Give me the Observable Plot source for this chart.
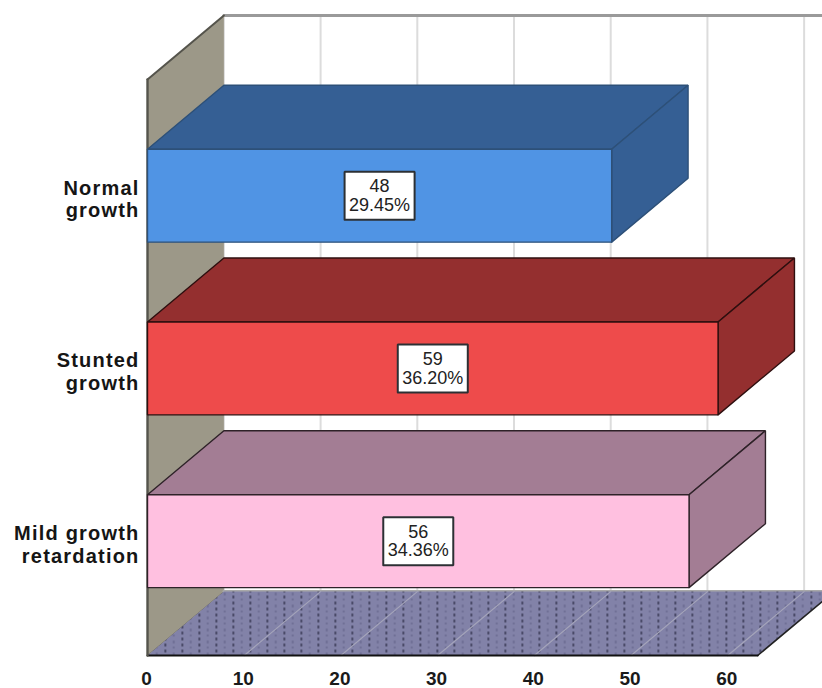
<!DOCTYPE html>
<html>
<head>
<meta charset="utf-8">
<script src="https://cdn.jsdelivr.net/npm/d3@7"></script>
<script src="https://cdn.jsdelivr.net/npm/@observablehq/plot@0.6"></script>
<style>
  html, body { margin: 0; padding: 0; background: #fff; overflow: hidden; }
  svg { display: block; }
</style>
</head>
<body>
<script>
// Growth categories, bottom row first, and their counts and shares
const categories = ["Mild growth\nretardation", "Stunted\ngrowth", "Normal\ngrowth"];
const counts = [56, 59, 48];
const percents = ["34.36%", "36.20%", "29.45%"];
const tickValues = [0, 10, 20, 30, 40, 50, 60];

// Bar face colours
const frontColors = ["#ffc0e0", "#ee4b4b", "#5094e4"];
const shadeColors = ["#a37d94", "#942f2f", "#355f94"];
const edgeColors = ["#2e2228", "#2e0f0f", "#2d5078"];

// Extent of the 3D box, in scale units
const xMax = 69.8;
const floorEnd = 63.1;
const depthX = 7.9;
const depthY = 0.37;
const barHalf = 0.269;
const floorY = -0.662;
const wallTop = 2.673;
const yMax = wallTop + depthY;
const boxHalfX = 3.62;
const boxHalfY = 0.139;

// Closed polygon drawn as a filled line
function face(points, fill, stroke = "none", strokeWidth = 1) {
  const closed = [...points, points[0]].map(([x, y]) => ({x, y}));
  return Plot.line(closed, {x: "x", y: "y", fill, stroke, strokeWidth, curve: "linear", strokeLinejoin: "miter"});
}
function seg(a, b, stroke, strokeWidth) {
  return Plot.line([{x: a[0], y: a[1]}, {x: b[0], y: b[1]}], {x: "x", y: "y", stroke, strokeWidth});
}

// Stippled floor fill
function floorPattern() {
  const defs = d3.create("svg:defs");
  const p = defs.append("pattern").attr("id", "floor-dots").attr("patternUnits", "userSpaceOnUse")
    .attr("width", 17).attr("height", 12).attr("x", 147).attr("y", 0);
  p.append("rect").attr("width", 17).attr("height", 12).attr("fill", "#8282a8");
  for (const [x, y, c] of [[0, 1, "#3c3c58"], [0, 7, "#3c3c58"], [8.5, 4, "#6a6a90"], [8.5, 10, "#6a6a90"]]) {
    p.append("rect").attr("x", x).attr("y", y).attr("width", 1.6).attr("height", 3).attr("fill", c);
  }
  return defs.node();
}

const backGrid = tickValues.slice(1).map(v => seg([v + depthX, floorY + depthY], [v + depthX, yMax], "#dcdcdc", 2));
const floorGrid = tickValues.slice(1).map(v => seg([v, floorY], [v + depthX, floorY + depthY], "#a4a4ba", 1.2));

const barMarks = counts.flatMap((v, i) => {
  const lo = i - barHalf, hi = i + barHalf, edge = edgeColors[i];
  return [
    face([[0, hi], [depthX, hi + depthY], [v + depthX, hi + depthY], [v, hi]], shadeColors[i], edge, 1.4),
    face([[v, lo], [v, hi], [v + depthX, hi + depthY], [v + depthX, lo + depthY]], shadeColors[i], edge, 1.4),
    face([[0, lo], [v, lo], [v, hi], [0, hi]], frontColors[i], edge, 1.4),
    face([[v / 2 - boxHalfX, i - boxHalfY], [v / 2 + boxHalfX, i - boxHalfY], [v / 2 + boxHalfX, i + boxHalfY], [v / 2 - boxHalfX, i + boxHalfY]], "#fff", "#2c3034", 2)
  ];
});

const rows = counts.map((v, i) => ({v, i, label: `${v}\n${percents[i]}`, cat: categories[i]}));

const chart = Plot.plot({
  width: 822,
  height: 688,
  marginLeft: 147,
  marginRight: 0,
  marginTop: 15,
  marginBottom: 33,
  style: {background: "#fff", fontFamily: "'Liberation Sans', Arial, sans-serif"},
  x: {domain: [0, xMax]},
  y: {domain: [floorY, yMax], axis: null},
  marks: [
    floorPattern,
    // back plane and its grid
    ...backGrid,
    seg([depthX, floorY + depthY], [depthX, yMax], "#dcdcdc", 2),
    seg([depthX, yMax], [xMax, yMax], "#9a9a9a", 3),
    // side wall
    face([[0, floorY], [depthX, floorY + depthY], [depthX, yMax], [0, wallTop]], "#9c9888"),
    seg([0, wallTop], [depthX, yMax], "#55544c", 2),
    seg([0, floorY], [depthX, floorY + depthY], "#6a685e", 1),
    // floor
    seg([depthX, floorY + depthY], [xMax + 2, floorY + depthY], "#a8a8a8", 3),
    face([[0, floorY], [depthX, floorY + depthY], [floorEnd + depthX, floorY + depthY], [floorEnd, floorY]], "url(#floor-dots)"),
    ...floorGrid,
    seg([floorEnd, floorY], [floorEnd + depthX, floorY + depthY], "#222", 1.6),
    seg([0, floorY], [floorEnd, floorY], "#111", 2),
    seg([0, floorY], [0, wallTop], "#55544c", 2.4),
    // bars with their value boxes
    ...barMarks,
    Plot.text(rows, {x: d => d.v / 2, y: "i", text: "label", fontSize: 18, lineHeight: 1.03, fill: "#222"}),
    Plot.text(rows, {x: 0, y: "i", text: "cat", textAnchor: "end", dx: -8, dy: 3, fontSize: 20, fontWeight: 700, lineHeight: 1.14, fill: "#151515"}),
    Plot.axisX({ticks: tickValues, tickSize: 0, tickPadding: 16, dx: -1, fontSize: 19, fontWeight: 700, label: null, tickFormat: d => String(d), fill: "#1a1a1a"})
  ]
});
// Widen the tracking of the category labels only
d3.select(chart).selectAll('g[aria-label="text"]')
  .filter(function () { return this.getAttribute("font-size") === "20"; })
  .selectAll("text").style("letter-spacing", "1.2px");
document.body.append(chart);
</script>
</body>
</html>
